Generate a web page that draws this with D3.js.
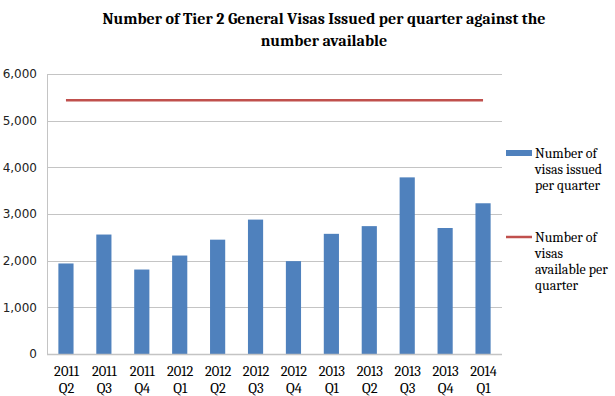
<!DOCTYPE html>
<html>
<head>
<meta charset="utf-8">
<script src="https://cdn.jsdelivr.net/npm/d3@7"></script>
<style>
  body { margin: 0; background: #fff; }
  svg { display: block; }
</style>
</head>
<body>
<div id="chart"></div>
<script>
'use strict';
// Chart data.
var quarters = ['2011 Q2', '2011 Q3', '2011 Q4', '2012 Q1', '2012 Q2', '2012 Q3',
    '2012 Q4', '2013 Q1', '2013 Q2', '2013 Q3', '2013 Q4', '2014 Q1'];
var issued = [1940, 2560, 1810, 2110, 2450, 2880, 1990, 2575, 2740, 3785, 2700, 3230];
var available = [5440, 5440, 5440, 5440, 5440, 5440, 5440, 5440, 5440, 5440, 5440, 5440];
var yTicks = [0, 1000, 2000, 3000, 4000, 5000, 6000];
var titleLines = ['Number of Tier 2 General Visas Issued per quarter against the', 'number available'];
var legendItems = [
    {kind: 'bar', lines: ['Number of', 'visas issued', 'per quarter']},
    {kind: 'line', lines: ['Number of', 'visas', 'available per', 'quarter']}
];

var W = 615, H = 396;
var margin = {top: 74, right: 113, bottom: 42, left: 47};
var width = W - margin.left - margin.right;
var height = H - margin.top - margin.bottom;
var serif = 'Cambria, "Liberation Serif", "DejaVu Serif", serif';

var svg = d3.select('#chart').append('svg')
    .attr('width', W)
    .attr('height', H);

// Title.
svg.append('text')
    .attr('x', 324)
    .attr('y', 24)
    .attr('text-anchor', 'middle')
    .style('font-family', serif)
    .style('font-weight', 'bold')
    .style('font-size', '16px')
    .style('fill', '#000')
    .selectAll('tspan')
    .data(titleLines)
    .enter()
    .append('tspan')
    .attr('x', 324)
    .attr('dy', function(d, i) { return i === 0 ? 0 : 22; })
    .text(function(d) { return d; });

var g = svg.append('g')
    .attr('transform', 'translate(' + margin.left + ',' + margin.top + ')');

var x = d3.scaleBand()
    .domain(quarters)
    .range([0, width])
    .paddingInner(0.6)
    .paddingOuter(0.3);
var xc = d3.scalePoint()
    .domain(quarters)
    .range([0, width])
    .padding(0.5);
var y = d3.scaleLinear()
    .domain([0, 6000])
    .range([height, 0]);

// Gridlines.
g.append('g')
    .selectAll('line')
    .data(yTicks.slice(1))
    .enter()
    .append('line')
    .attr('x1', 0)
    .attr('x2', width)
    .attr('y1', function(d) { return Math.round(y(d)) + 0.5; })
    .attr('y2', function(d) { return Math.round(y(d)) + 0.5; })
    .style('stroke', '#c4c4c4')
    .style('stroke-width', 1);

// Y axis.
var yAxis = d3.axisLeft(y)
    .tickValues(yTicks)
    .tickSize(0)
    .tickPadding(10)
    .tickFormat(d3.format(','));
var yAxisEle = g.append('g').call(yAxis);
yAxisEle.select('.domain')
    .attr('d', 'M0.5,0V' + height)
    .style('stroke', '#c4c4c4');
yAxisEle.selectAll('text')
    .style('font-family', '"DejaVu Sans", Verdana, sans-serif')
    .style('font-size', '12px')
    .style('fill', '#222');

// Bars.
g.selectAll('rect.bar')
    .data(issued)
    .enter()
    .append('rect')
    .attr('class', 'bar')
    .attr('x', function(d, i) { return x(quarters[i]); })
    .attr('y', function(d) { return y(d); })
    .attr('width', x.bandwidth())
    .attr('height', function(d) { return height - y(d); })
    .style('fill', '#4f81bd');

// X axis.
var xAxis = d3.axisBottom(xc).tickSize(0).tickFormat('');
var xAxisEle = g.append('g')
    .attr('transform', 'translate(0,' + height + ')')
    .call(xAxis);
xAxisEle.select('.domain')
    .attr('d', 'M0,0.5H' + width)
    .style('stroke', '#c4c4c4')
    .style('stroke-width', 1.5);
xAxisEle.selectAll('.tick')
    .append('text')
    .attr('text-anchor', 'middle')
    .style('font-family', serif)
    .style('font-size', '14.5px')
    .style('fill', '#000')
    .selectAll('tspan')
    .data(function(d) { return d.split(' '); })
    .enter()
    .append('tspan')
    .attr('x', 0)
    .attr('y', function(d, i) { return 22 + i * 17; })
    .text(function(d) { return d; });

// Available line.
var line = d3.line()
    .x(function(d, i) { return xc(quarters[i]); })
    .y(function(d) { return y(d); });
g.append('path')
    .datum(available)
    .attr('d', line)
    .style('fill', 'none')
    .style('stroke', '#c0504d')
    .style('stroke-width', 2.5);

// Legend.
var legend = svg.append('g').attr('transform', 'translate(506,0)');
var legendY = [153, 237];
legendItems.forEach(function(item, k) {
    var lg = legend.append('g').attr('transform', 'translate(0,' + legendY[k] + ')');
    if (item.kind === 'bar') {
        lg.append('rect')
            .attr('x', 0).attr('y', -3)
            .attr('width', 26).attr('height', 6)
            .style('fill', '#4f81bd');
    } else {
        lg.append('line')
            .attr('x1', 0).attr('x2', 26)
            .attr('y1', 0).attr('y2', 0)
            .style('stroke', '#c0504d')
            .style('stroke-width', 2.5);
    }
    lg.append('text')
        .style('font-family', serif)
        .style('font-size', '14px')
        .style('fill', '#000')
        .selectAll('tspan')
        .data(item.lines)
        .enter()
        .append('tspan')
        .attr('x', 29)
        .attr('y', function(d, i) { return 4.5 + i * 16; })
        .text(function(d) { return d; });
});
</script>
</body>
</html>
